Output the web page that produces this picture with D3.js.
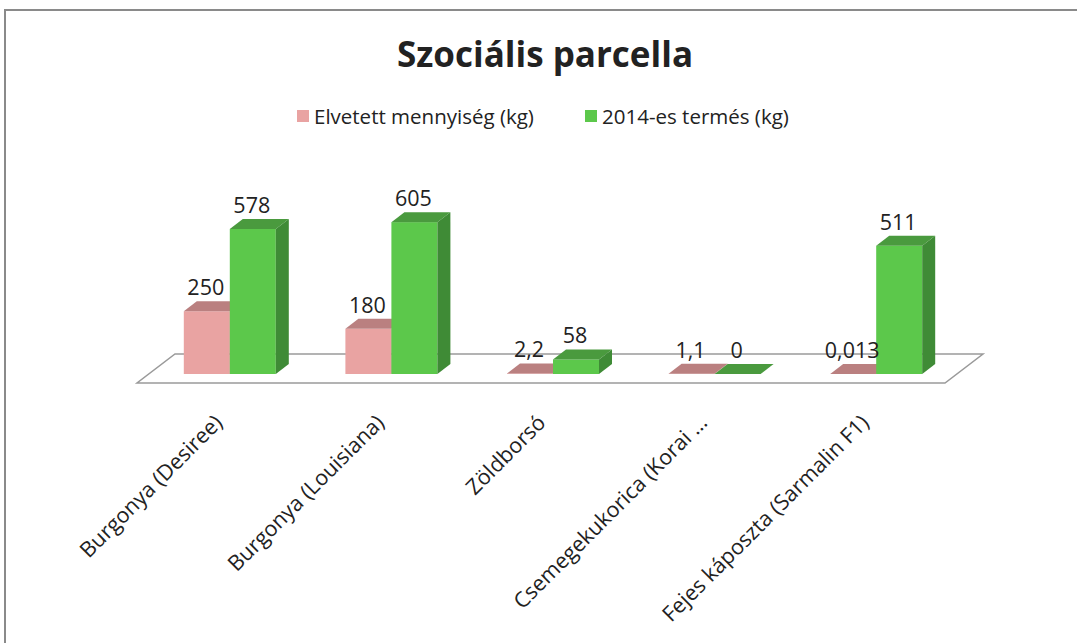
<!DOCTYPE html>
<html>
<head>
<meta charset="utf-8">
<script src="https://cdn.jsdelivr.net/npm/d3@7"></script>
<style>
  body { margin: 0; background: #fff; }
  text { font-family: "Open Sans", sans-serif; fill: #222; }
</style>
</head>
<body>
<div id="chart"></div>
<script>
var width = 1077, height = 643;

// data
var categories = ["Burgonya (Desiree)", "Burgonya (Louisiana)", "Zöldborsó", "Csemegekukorica (Korai …", "Fejes káposzta (Sarmalin F1)"];
var seriesNames = ["Elvetett mennyiség (kg)", "2014-es termés (kg)"];
var sownValues = [250, 180, 2.2, 1.1, 0.013];
var harvestValues = [578, 605, 58, 0, 511];

var seriesValues = [sownValues, harvestValues];
var frontColors = ["#e9a3a2", "#5cc84b"];
var topColors = ["#ba8080", "#4a9a3e"];
var sideColors = ["#c98c8b", "#3f8b36"];

var svg = d3.select("#chart").append("svg")
    .attr("width", width)
    .attr("height", height);

// chart frame
svg.append("path")
    .attr("d", "M5," + height + " L5,10 L" + width + ",10")
    .attr("fill", "none")
    .attr("stroke", "#8a8a8a")
    .attr("stroke-width", 2);

// title
svg.append("text")
    .attr("x", 545).attr("y", 67)
    .attr("text-anchor", "middle")
    .style("font-size", "35px")
    .style("font-weight", "bold")
    .text("Szociális parcella");

// legend
var legendX = [297, 585];
var legend = svg.selectAll(".legend")
    .data(seriesNames)
    .join("g")
    .attr("class", "legend")
    .attr("transform", function(d, i) { return "translate(" + legendX[i] + ",110)"; });
legend.append("rect")
    .attr("width", 12).attr("height", 12)
    .attr("fill", function(d, i) { return frontColors[i]; });
legend.append("text")
    .attr("x", 17).attr("y", 14)
    .style("font-size", "20.5px")
    .text(function(d) { return d; });

// floor geometry
var floorLeft = 137, floorRight = 945, floorY = 383;
var floorDx = 38, floorDy = 29;
var barShiftX = 12, barY0 = 374;   // bars sit a bit behind the front edge
var depthX = 13, depthY = 10;      // bar depth

var x0 = d3.scaleBand().domain(categories).range([floorLeft, floorRight]);
var groupWidth = 92;
var x1 = d3.scaleBand().domain(d3.range(seriesNames.length)).range([0, groupWidth]);
var groupPad = (x0.bandwidth() - groupWidth) / 2;

var y = d3.scaleLinear().domain([0, 600]).range([barY0, barY0 - 600 * 0.251]);

// floor plane
svg.append("polygon")
    .attr("points", [
        [floorLeft, floorY], [floorRight, floorY],
        [floorRight + floorDx, floorY - floorDy], [floorLeft + floorDx, floorY - floorDy]
    ].join(" "))
    .attr("fill", "#fff")
    .attr("stroke", "#9a9a9a")
    .attr("stroke-width", 1.5);

// bars
var bars = [];
categories.forEach(function(c, ci) {
    seriesValues.forEach(function(vals, si) {
        bars.push({ cat: c, s: si, v: vals[ci] });
    });
});

function barX(d) { return x0(d.cat) + groupPad + x1(d.s) + barShiftX; }

var g = svg.selectAll(".bar")
    .data(bars)
    .join("g")
    .attr("class", "bar");

g.append("rect")
    .attr("x", barX)
    .attr("y", function(d) { return y(d.v); })
    .attr("width", x1.bandwidth())
    .attr("height", function(d) { return barY0 - y(d.v); })
    .attr("fill", function(d) { return frontColors[d.s]; });

g.append("polygon")
    .attr("points", function(d) {
        var x = barX(d), w = x1.bandwidth(), t = y(d.v);
        return [[x, t], [x + depthX, t - depthY], [x + w + depthX, t - depthY], [x + w, t]].join(" ");
    })
    .attr("fill", function(d) { return topColors[d.s]; });

g.append("polygon")
    .attr("points", function(d) {
        var x = barX(d), w = x1.bandwidth(), t = y(d.v);
        return [[x + w, t], [x + w + depthX, t - depthY], [x + w + depthX, barY0 - depthY], [x + w, barY0]].join(" ");
    })
    .attr("fill", function(d) { return sideColors[d.s]; });

// value labels
svg.selectAll(".val")
    .data(bars)
    .join("text")
    .attr("class", "val")
    .attr("x", function(d) { return barX(d) + x1.bandwidth() / 2 - 1; })
    .attr("y", function(d) { return y(d.v) - depthY - 6; })
    .attr("text-anchor", "middle")
    .style("font-size", "21.5px")
    .text(function(d) { return String(d.v).replace(".", ","); });

// category labels
svg.selectAll(".cat")
    .data(categories)
    .join("text")
    .attr("class", "cat")
    .attr("text-anchor", "end")
    .attr("transform", function(d) {
        var cx = x0(d) + x0.bandwidth() / 2 + barShiftX - 6;
        return "translate(" + cx + ",424) rotate(-45)";
    })
    .style("font-size", "21.5px")
    .text(function(d) { return d; });
</script>
</body>
</html>
